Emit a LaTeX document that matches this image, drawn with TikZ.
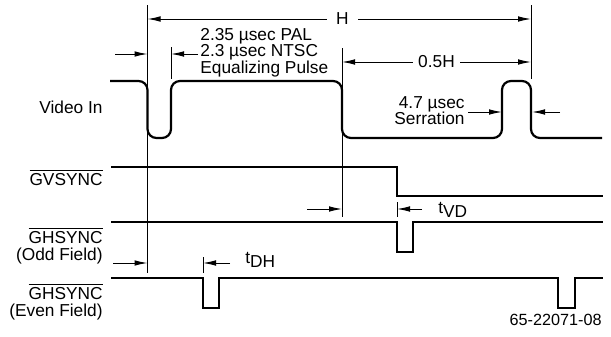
\documentclass[tikz,border=0pt]{standalone}
\usepackage{fontspec}
\setmainfont{Liberation Sans}
\usetikzlibrary{arrows.meta}

\tikzset{
  sinal/.style={line width=1.1pt},
  guia/.style={line width=0.5pt},
  seta/.style={line width=0.5pt, -{Latex[length=6.5pt,width=2.8pt]}},
  setas/.style={line width=0.5pt, {Latex[length=6.5pt,width=2.8pt]}-{Latex[length=6.5pt,width=2.8pt]}},
  rotulo/.style={font=\fontsize{8.65}{8.3}\selectfont, inner sep=0pt},
}

\begin{document}
\begin{tikzpicture}[x=0.5pt,y=-0.5pt]
  \useasboundingbox (0,0) rectangle (611,337);

  % Linhas de referencia
  \draw[guia] (147.5,5) -- (147.5,273);
  \draw[guia] (531,5) -- (531,79);
  \draw[guia] (171,47) -- (171,79);
  \draw[guia] (342,48) -- (342,217);
  \draw[guia] (397,202) -- (397,217);
  \draw[guia] (203,257) -- (203,273);

  % Cotas H e 0.5H
  \draw[setas] (147.5,19) -- (531,19)
    node[rotulo, pos=0.508, fill=white, inner xsep=4.5pt, inner ysep=1pt] (hlab) {H};
  \draw[setas] (342,62) -- (531,62)
    node[rotulo, midway, fill=white, inner xsep=2.5pt, inner ysep=1pt] (meio) {0.5H};

  % Pulso de equalizacao
  \draw[seta] (115,54) -- (147.5,54);
  \draw[seta] (198,54) -- (171,54);
  \node[rotulo, align=left, anchor=north west] (pal) at (200,27.6)
    {2.35 \textmu sec PAL\\2.3 \textmu sec NTSC\\Equalizing Pulse};

  % Serrilhado
  \draw[seta] (468,112) -- (502,112);
  \draw[seta] (560,112) -- (532,112);
  \node[rotulo, align=right, anchor=north east] (serr) at (465,96)
    {4.7 \textmu sec\\Serration};

  % Atrasos tVD e tDH
  \draw[seta] (307,209) -- (342,209);
  \draw[seta] (422,209) -- (397,209);
  \node[rotulo, anchor=base west] (tvd) at (438,213) {t\raisebox{-2pt}{VD}};
  \draw[seta] (113,263) -- (147.5,263);
  \draw[seta] (230,263) -- (203,263);
  \node[rotulo, anchor=base west] (tdh) at (245,263) {t\raisebox{-2pt}{DH}};

  % Sinais
  \draw[sinal, rounded corners=4.5pt] (110,81) -- (147.5,81) -- (147.5,138) -- (171,138)
    -- (171,81) -- (342,81) -- (342,138) -- (502,138) -- (502,81) -- (531,81)
    -- (531,138) -- (602,138);
  \draw[sinal] (111,167) -- (397,167) -- (397,196) -- (603,196);
  \draw[sinal] (111,222) -- (397,222) -- (397,252) -- (413,252) -- (413,222) -- (603,222);
  \draw[sinal] (111,278) -- (203,278) -- (203,308) -- (219,308) -- (219,278)
    -- (558,278) -- (558,308) -- (575,308) -- (575,278) -- (603,278);

  % Nomes dos sinais
  \node[rotulo, anchor=base east] (video) at (103,113) {Video In};
  \node[rotulo, anchor=base east] (gvs) at (103,185) {$\overline{\hbox{GVSYNC}}$};
  \node[rotulo, align=right, anchor=north east] (ghimpar) at (103,227)
    {$\overline{\hbox{GHSYNC}}$\\[0.2pt](Odd Field)};
  \node[rotulo, align=right, anchor=north east] (ghpar) at (103,283)
    {$\overline{\hbox{GHSYNC}}$\\[0.2pt](Even Field)};

  % Codigo da figura
  \node[rotulo, font=\fontsize{8.1}{9}\selectfont, anchor=base east] (fig) at (602,325) {65-22071-08};
\end{tikzpicture}
\end{document}
